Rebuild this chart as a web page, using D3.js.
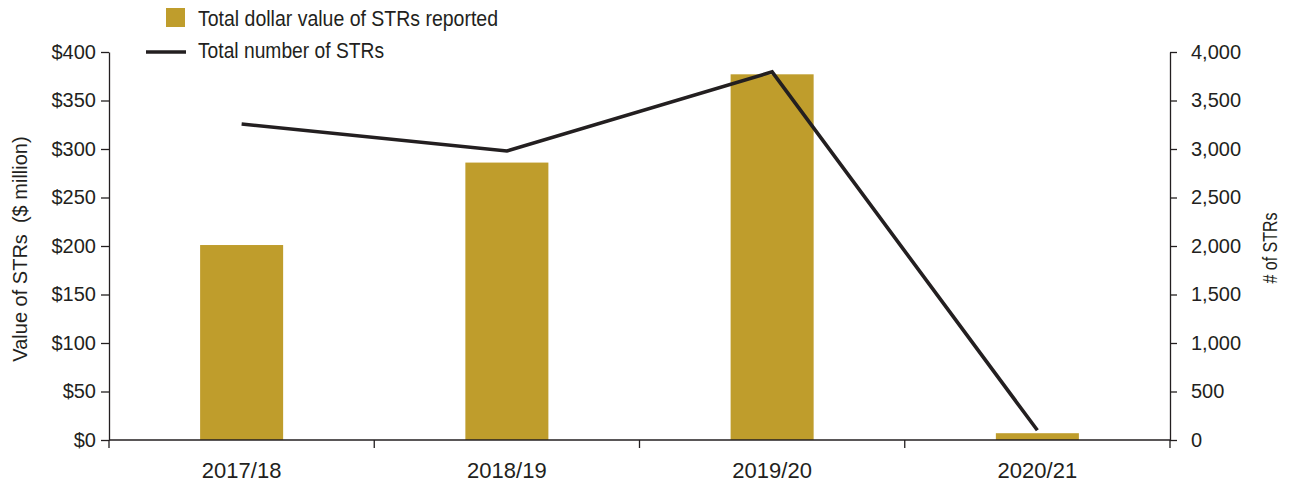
<!DOCTYPE html>
<html>
<head>
<meta charset="utf-8">
<script src="https://cdn.jsdelivr.net/npm/d3@7"></script>
<style>
  html, body { margin: 0; padding: 0; background: #ffffff; }
  svg { display: block; }
  text { fill: #231f20; font-family: "Liberation Sans", Arial, sans-serif; }
</style>
</head>
<body>
<svg id="chart" width="1291" height="487"></svg>
<script>
// Financial years on the x axis
const years = ["2017/18", "2018/19", "2019/20", "2020/21"];
// Total dollar value of STRs reported ($ million) - bars, left axis
const valueMillions = [201, 286, 377, 7];
// Total number of STRs - line, right axis
const strCounts = [3258, 2980, 3795, 100];
// Axis tick values
const leftTicks = [0, 50, 100, 150, 200, 250, 300, 350, 400];
const rightTicks = [0, 500, 1000, 1500, 2000, 2500, 3000, 3500, 4000];

const barColor = "#bf9d2c";
const inkColor = "#231f20";

const svg = d3.select("#chart");
const margin = { left: 109, right: 121, top: 52, bottom: 47 };
const W = 1291, H = 487;
const x0 = margin.left, x1 = W - margin.right;
const y0 = H - margin.bottom, y1 = margin.top;

const x = d3.scaleBand().domain(years).range([x0, x1])
  .paddingInner(0.687).paddingOuter(0.3435);
const xBand = d3.scaleBand().domain(years).range([x0, x1]).padding(0);
const yLeft = d3.scaleLinear().domain([0, 400]).range([y0, y1]);
const yRight = d3.scaleLinear().domain([0, 4000]).range([y0, y1]);

// Bars
svg.append("g").selectAll("rect")
  .data(years)
  .join("rect")
  .attr("x", d => x(d))
  .attr("width", x.bandwidth())
  .attr("y", (d, i) => yLeft(valueMillions[i]))
  .attr("height", (d, i) => y0 - yLeft(valueMillions[i]))
  .attr("fill", barColor);

// Line
const line = d3.line()
  .x((d, i) => xBand(years[i]) + xBand.bandwidth() / 2)
  .y(d => yRight(d));
svg.append("path")
  .datum(strCounts)
  .attr("d", line)
  .attr("fill", "none")
  .attr("stroke", inkColor)
  .attr("stroke-width", 3.6)
  .attr("stroke-linejoin", "miter");

// Left axis
const leftAxis = svg.append("g")
  .attr("transform", `translate(${x0},0)`)
  .call(d3.axisLeft(yLeft).tickValues(leftTicks)
    .tickFormat(d => "$" + d).tickSize(8).tickPadding(5).tickSizeOuter(0));

// Right axis
const rightAxis = svg.append("g")
  .attr("transform", `translate(${x1},0)`)
  .call(d3.axisRight(yRight).tickValues(rightTicks)
    .tickFormat(d3.format(",")).tickSize(7).tickPadding(14).tickSizeOuter(0));

// Bottom axis: ticks sit at category boundaries
const xBoundaries = years.map(d => xBand(d)).concat([x1]);
const bottomAxis = svg.append("g")
  .attr("transform", `translate(0,${y0})`);
bottomAxis.append("line")
  .attr("x1", x0).attr("x2", x1).attr("y1", 0).attr("y2", 0)
  .attr("stroke", inkColor).attr("stroke-width", 1.3);
bottomAxis.selectAll("line.tick")
  .data(xBoundaries)
  .join("line")
  .attr("class", "tick")
  .attr("x1", d => d).attr("x2", d => d)
  .attr("y1", 0).attr("y2", 8)
  .attr("stroke", inkColor).attr("stroke-width", 1.3);
bottomAxis.selectAll("text")
  .data(years)
  .join("text")
  .attr("x", d => xBand(d) + xBand.bandwidth() / 2)
  .attr("y", 38)
  .attr("text-anchor", "middle")
  .style("font-size", "22px")
  .text(d => d);

[leftAxis, rightAxis].forEach(g => {
  g.select(".domain").attr("stroke", inkColor).attr("stroke-width", 1.3);
  g.selectAll(".tick line").attr("stroke", inkColor).attr("stroke-width", 1.3);
  g.selectAll(".tick text")
    .attr("fill", inkColor)
    .style("font-family", "'Liberation Sans', Arial, sans-serif")
    .style("font-size", "20px");
});

// Axis titles
svg.append("text")
  .attr("transform", `translate(27,${(y0 + y1) / 2 + 3}) rotate(-90)`)
  .attr("text-anchor", "middle")
  .style("font-size", "20px")
  .style("white-space", "pre")
  .text("Value of STRs  ($ million)");

svg.append("text")
  .attr("transform", `translate(1277,${(y0 + y1) / 2 + 2}) rotate(-90)`)
  .attr("text-anchor", "middle")
  .attr("textLength", 71)
  .attr("lengthAdjust", "spacingAndGlyphs")
  .style("font-size", "20px")
  .text("# of STRs");

// Legend (condensed face approximated by compressing the glyphs)
const legend = svg.append("g");
legend.append("rect")
  .attr("x", 166).attr("y", 8).attr("width", 19).attr("height", 19)
  .attr("fill", barColor);
legend.append("text")
  .attr("x", 198).attr("y", 26)
  .attr("textLength", 300)
  .attr("lengthAdjust", "spacingAndGlyphs")
  .style("font-size", "22px")
  .text("Total dollar value of STRs reported");
legend.append("line")
  .attr("x1", 146).attr("x2", 186).attr("y1", 52).attr("y2", 52)
  .attr("stroke", inkColor).attr("stroke-width", 3.6);
legend.append("text")
  .attr("x", 198).attr("y", 58)
  .attr("textLength", 186)
  .attr("lengthAdjust", "spacingAndGlyphs")
  .style("font-size", "22px")
  .text("Total number of STRs");
</script>
</body>
</html>
